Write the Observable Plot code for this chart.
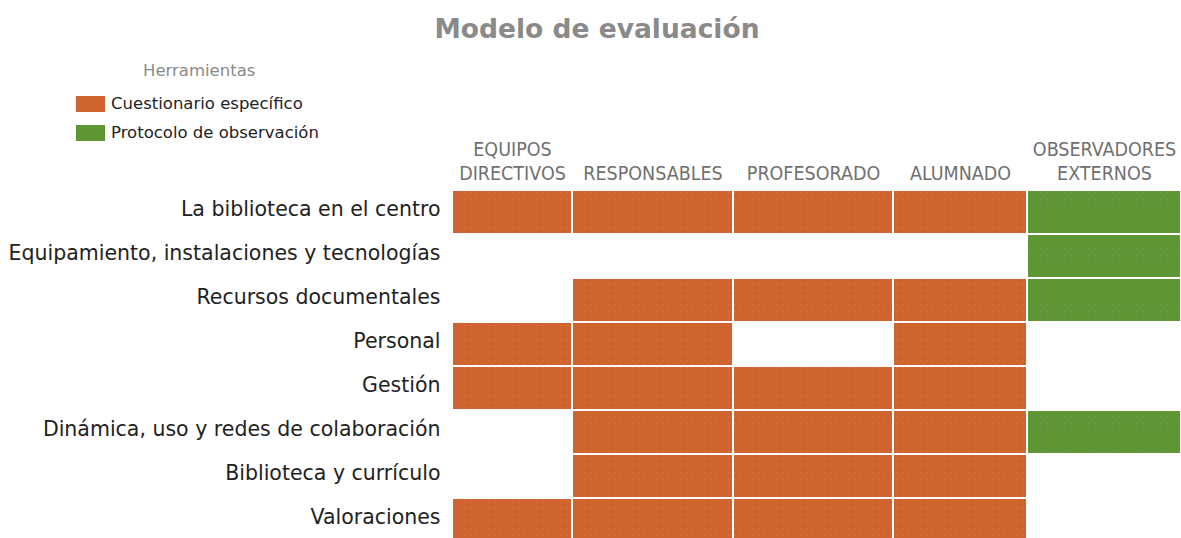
<!DOCTYPE html>
<html>
<head>
<meta charset="utf-8">
<script src="https://cdn.jsdelivr.net/npm/d3@7"></script>
<script src="https://cdn.jsdelivr.net/npm/@observablehq/plot@0.6"></script>
<style>
  html, body { margin: 0; padding: 0; background: #fff; overflow: hidden; }
  #wrap { position: relative; width: 1181px; height: 538px; font-family: "DejaVu Sans", Verdana, sans-serif; }
  #title { position: absolute; left: 0; width: 1194px; top: 13px; text-align: center; font-weight: bold; font-size: 26.5px; color: #8a8a8a; }
  #legend { position: absolute; left: 76px; top: 61px; font-size: 16.5px; color: #222; }
  #legend .lt { color: #8a8a8a; margin-left: 67px; margin-bottom: 9px; font-size: 16.5px; }
  #legend .item { display: flex; align-items: center; height: 29px; }
  #legend .sw { width: 29px; height: 16px; margin-right: 6px; }
  #chart { position: absolute; left: 0; top: 0; }
</style>
</head>
<body>
<div id="wrap">
  <div id="chart"></div>
  <div id="title">Modelo de evaluación</div>
  <div id="legend"></div>
</div>
<script>
// ---- data ----
const rows = [
  "La biblioteca en el centro",
  "Equipamiento, instalaciones y tecnologías",
  "Recursos documentales",
  "Personal",
  "Gestión",
  "Dinámica, uso y redes de colaboración",
  "Biblioteca y currículo",
  "Valoraciones"
];
const columns = ["EQUIPOS\nDIRECTIVOS", "RESPONSABLES", "PROFESORADO", "ALUMNADO", "OBSERVADORES\nEXTERNOS"];
const tools = ["Cuestionario específico", "Protocolo de observación"];
// tool used for each row and column: "C" = cuestionario, "P" = protocolo, "" = none
const matrix = [
  ["C", "C", "C", "C", "P"],
  ["",  "",  "",  "",  "P"],
  ["",  "C", "C", "C", "P"],
  ["C", "C", "",  "C", ""],
  ["C", "C", "C", "C", ""],
  ["",  "C", "C", "C", "P"],
  ["",  "C", "C", "C", ""],
  ["C", "C", "C", "C", ""]
];

// ---- layout (relative column widths) ----
const colWidths = [120, 161, 160, 134, 154];
const colStart = colWidths.map((w, i) => d3.sum(colWidths.slice(0, i)));
const total = d3.sum(colWidths);
const colors = ["#cf6430", "#5f9634"];
const dotColors = ["#e3733c", "#6c9d52"];

const cells = [];
matrix.forEach((r, ri) => r.forEach((v, ci) => {
  if (v) cells.push({row: rows[ri], x1: colStart[ci], x2: colStart[ci] + colWidths[ci], tool: v === "C" ? tools[0] : tools[1]});
}));
const centers = colStart.map((s, i) => s + colWidths[i] / 2);
const headerOf = new Map(centers.map((c, i) => [c, columns[i]]));

const chart = Plot.plot({
  width: 1181,
  height: 544,
  marginTop: 188,
  marginLeft: 452,
  marginRight: 0,
  marginBottom: 0,
  style: {fontFamily: "DejaVu Sans, Verdana, sans-serif", background: "transparent", overflow: "visible"},
  x: {domain: [0, total], axis: null},
  y: {domain: rows, padding: 0, axis: null},
  color: {domain: tools, range: colors},
  marks: [
    Plot.rect(cells, {x1: "x1", x2: "x2", y: "row", fill: "tool", inset: 1}),
    Plot.axisY({tickSize: 0, tickPadding: 12, fontSize: 20.5, color: "#222", label: null, dy: -3}),
    Plot.axisX({anchor: "top", ticks: centers, tickFormat: d => headerOf.get(d), tickSize: 0, tickPadding: 9,
      fontSize: 19.5, color: "#707070", label: null, lineAnchor: "bottom", lineHeight: 1.23,
      fontFamily: "DejaVu Sans Condensed, Liberation Sans Narrow, sans-serif", fontStretch: "condensed", fontWeight: 300})
  ]
});
document.getElementById("chart").appendChild(chart);

// dotted texture on the cells
const cellRects = d3.select(chart).selectAll("rect").filter(function() { return colors.includes(this.getAttribute("fill")); });
const defs = d3.select(chart).insert("defs", ":first-child");
colors.forEach((c, i) => {
  const p = defs.append("pattern").attr("id", "pat" + i).attr("width", 6).attr("height", 7).attr("patternUnits", "userSpaceOnUse");
  p.append("rect").attr("width", 6).attr("height", 7).attr("fill", c);
  p.append("rect").attr("x", 2).attr("y", 3).attr("width", 1.2).attr("height", 1.2).attr("fill", dotColors[i]);
});
cellRects.each(function() {
  this.setAttribute("fill", `url(#pat${colors.indexOf(this.getAttribute("fill"))})`);
});

// legend
const lg = document.getElementById("legend");
lg.innerHTML = `<div class="lt">Herramientas</div>` + tools.map((t, i) =>
  `<div class="item"><div class="sw" style="background:${colors[i]}"></div><span>${t}</span></div>`).join("");
</script>
</body>
</html>
